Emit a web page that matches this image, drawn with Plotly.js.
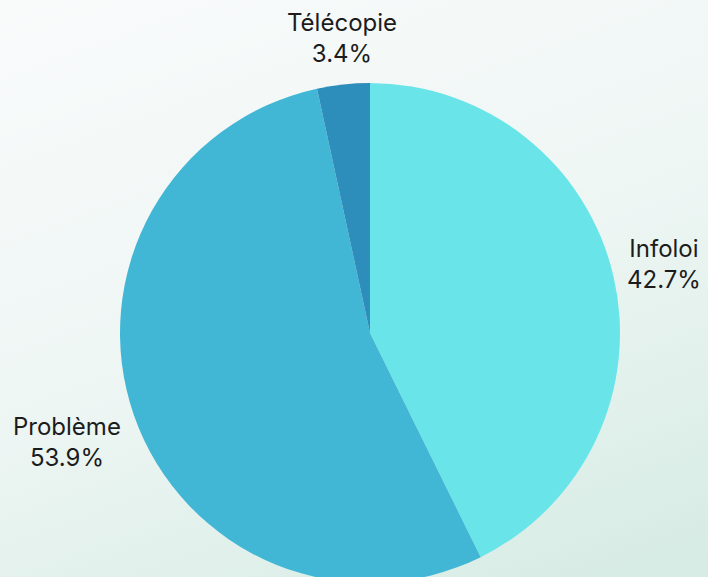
<!DOCTYPE html>
<html>
<head>
<meta charset="utf-8">
<script src="https://cdn.plot.ly/plotly-3.0.1.min.js"></script>
<style>
html,body{margin:0;padding:0;width:708px;height:577px;overflow:hidden;}
body{background:linear-gradient(160deg,#f9fbfb 0%,#eef6f4 50%,#d5ebe3 100%);}
#chart{width:708px;height:666px;}
</style>
</head>
<body>
<div id="chart"></div>
<script>
const categories = ["Infoloi", "Problème", "Télécopie"];
const shares = [42.7, 53.9, 3.4];
const sliceColors = ["#69e5e9", "#42b7d5", "#2d8dbb"];

// layout constants (pixels)
const W = 708, H = 666;
const CX = 370, CY = 333, R = 250, LABEL_R = 262;

const total = shares.reduce((a, b) => a + b, 0);
const annotations = [];
let cum = 0;
shares.forEach((v, i) => {
  const mid = (cum + v / 2) / total * 2 * Math.PI;
  cum += v;
  const sx = Math.sin(mid), sy = -Math.cos(mid);
  const px = CX + LABEL_R * sx, py = CY + LABEL_R * sy;
  const side = Math.abs(sx) > 0.3;
  annotations.push({
    xref: "paper", yref: "paper",
    x: px / W, y: 1 - py / H,
    text: categories[i] + "<br>" + (v / total * 100).toFixed(1) + "%",
    showarrow: false,
    xanchor: sx > 0.3 ? "left" : (sx < -0.3 ? "right" : "center"),
    yanchor: sy < -0.3 ? "bottom" : (sy > 0.3 ? "top" : "middle"),
    yshift: side ? 9 : 2,
    align: "center",
    font: {family: "Inter, 'Noto Sans', sans-serif", size: 24, color: "#1c1c1c"}
  });
});

Plotly.newPlot("chart", [{
  type: "pie",
  labels: categories,
  values: shares,
  sort: false,
  direction: "clockwise",
  rotation: 0,
  domain: {x: [(CX - R) / W, (CX + R) / W], y: [(H - CY - R) / H, (H - CY + R) / H]},
  marker: {colors: sliceColors, line: {width: 0}},
  textinfo: "none",
  hoverinfo: "label+percent",
  showlegend: false
}], {
  width: W,
  height: H,
  margin: {l: 0, r: 0, t: 0, b: 0},
  paper_bgcolor: "rgba(0,0,0,0)",
  plot_bgcolor: "rgba(0,0,0,0)",
  showlegend: false,
  annotations: annotations
}, {displayModeBar: false, staticPlot: true});
</script>
</body>
</html>
